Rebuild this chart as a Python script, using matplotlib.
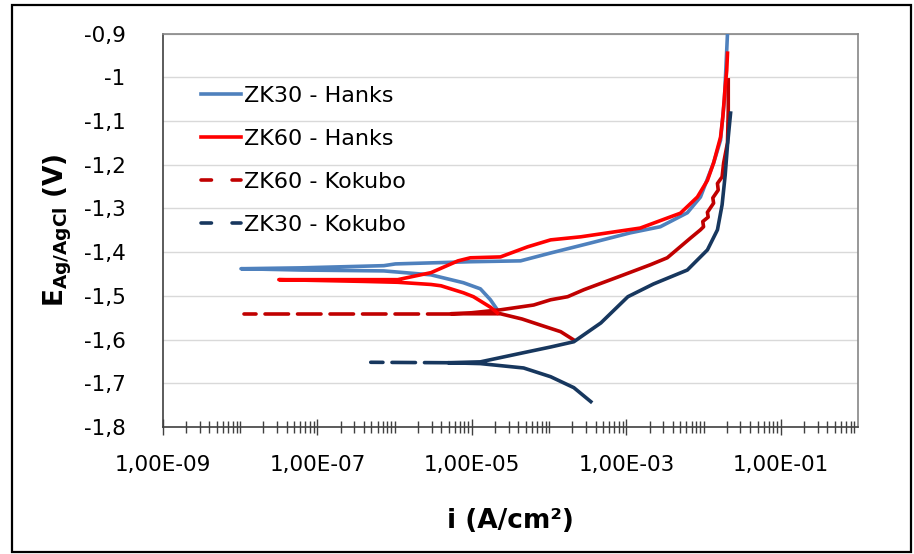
import matplotlib
matplotlib.use("Agg")
import numpy as np
import matplotlib.pyplot as plt
from matplotlib.ticker import FixedLocator, FixedFormatter, NullFormatter
from matplotlib.patches import Rectangle
from matplotlib.lines import Line2D

plt.rcParams['font.family'] = ['DejaVu Sans']
plt.rcParams['mathtext.fontset'] = 'dejavusans'

# ---------------- data (log10 of i in A/cm2, E in V vs Ag/AgCl) ----------------
labels = ["ZK30 - Hanks", "ZK60 - Hanks", "ZK60 - Kokubo", "ZK30 - Kokubo"]
colors = ["#4F81BD", "#FF0000", "#C00000", "#17375E"]

# ZK30 - Hanks : cathodic end -> Ecorr -> anodic end
zk30h_logi = [-4.67, -4.76, -4.89, -5.11, -5.53, -6.14, -7.21, -7.99,
              -7.21, -6.14, -5.99, -5.02, -4.37, -3.98, -3.46, -2.95, -2.56,
              -2.21, -2.04, -1.94, -1.87, -1.78, -1.73, -1.69]
zk30h_E = [-1.532, -1.509, -1.484, -1.470, -1.452, -1.443, -1.441, -1.438,
           -1.436, -1.431, -1.427, -1.422, -1.420, -1.402, -1.379, -1.356, -1.342,
           -1.310, -1.274, -1.228, -1.196, -1.144, -1.052, -0.900]

# ZK60 - Hanks
zk60h_logi = [-4.67, -4.76, -4.98, -5.11, -5.40, -5.53, -5.96, -6.40, -7.50,
              -6.40, -5.96, -5.53, -5.18, -5.02, -4.63, -4.28, -3.98, -3.59,
              -2.82, -2.30, -2.08, -1.95, -1.87, -1.78, -1.75, -1.72, -1.70, -1.69]
zk60h_E = [-1.539, -1.526, -1.502, -1.493, -1.477, -1.474, -1.469, -1.467, -1.463,
           -1.463, -1.463, -1.447, -1.420, -1.413, -1.411, -1.388, -1.372, -1.365,
           -1.345, -1.311, -1.274, -1.236, -1.196, -1.137, -1.090, -1.022, -0.985, -0.945]

# ZK60 - Kokubo : solid part (cathodic end -> junction -> anodic end)
zk60k_logi = [-3.68, -3.85, -4.11, -4.35, -4.63, -5.02, -5.27,
              -5.02, -4.63, -4.20, -3.98, -3.76, -3.55, -3.11, -2.69, -2.47,
              -2.17, -2.04, -2.00, -2.01, -1.94, -1.95, -1.87, -1.88, -1.81,
              -1.82, -1.76, -1.74, -1.69, -1.68, -1.68]
zk60k_E = [-1.601, -1.582, -1.567, -1.553, -1.541, -1.541, -1.541,
           -1.539, -1.532, -1.521, -1.509, -1.502, -1.486, -1.457, -1.429, -1.413,
           -1.368, -1.349, -1.342, -1.330, -1.320, -1.309, -1.288, -1.276, -1.258,
           -1.243, -1.228, -1.196, -1.150, -1.075, -1.006]
# ZK60 - Kokubo : near-Ecorr part (dashed)
zk60k_dash_logi = [-5.27, -7.95]
zk60k_dash_E = [-1.541, -1.541]

# ZK30 - Kokubo : solid part
zk30k_logi = [-3.46, -3.68, -3.98, -4.33, -4.89, -5.31,
              -4.89, -4.33, -3.98, -3.68, -3.33, -2.98, -2.65, -2.21, -1.95,
              -1.82, -1.76, -1.72, -1.69, -1.65]
zk30k_E = [-1.742, -1.710, -1.685, -1.665, -1.655, -1.653,
           -1.651, -1.630, -1.617, -1.605, -1.562, -1.502, -1.473, -1.441, -1.395,
           -1.349, -1.292, -1.224, -1.155, -1.082]
# ZK30 - Kokubo : near-Ecorr part (dashed)
zk30k_dash_logi = [-5.31, -6.31]
zk30k_dash_E = [-1.653, -1.652]

# axis ticks / labels
x_major = [1e-9, 1e-7, 1e-5, 1e-3, 1e-1]
x_major_labels = ["1,00E-09", "1,00E-07", "1,00E-05", "1,00E-03", "1,00E-01"]
y_ticks = [-0.9, -1.0, -1.1, -1.2, -1.3, -1.4, -1.5, -1.6, -1.7, -1.8]
y_tick_labels = ["-0,9", "-1", "-1,1", "-1,2", "-1,3", "-1,4", "-1,5", "-1,6", "-1,7", "-1,8"]

# ---------------- figure ----------------
W, H = 914, 554
fig = plt.figure(figsize=(W / 100, H / 100), dpi=100)
L, R, T, B = 163, 858, 33.5, 427
ax = fig.add_axes([L / W, 1 - B / H, (R - L) / W, (B - T) / H])

lw = 2.6
dash = (6.5, 2.5)

def tenpow(a):
    return 10.0 ** np.asarray(a)

ax.plot(tenpow(zk30h_logi), zk30h_E, color=colors[0], lw=lw,
        solid_joinstyle='round', zorder=3)
ax.plot(tenpow(zk60h_logi), zk60h_E, color=colors[1], lw=lw,
        solid_joinstyle='round', zorder=4)
ax.plot(tenpow(zk60k_dash_logi), zk60k_dash_E, color=colors[2], lw=lw,
        dashes=dash, dash_capstyle='round', zorder=3)
ax.plot(tenpow(zk60k_logi), zk60k_E, color=colors[2], lw=lw,
        solid_joinstyle='round', zorder=3)
ax.plot(tenpow(zk30k_dash_logi), zk30k_dash_E, color=colors[3], lw=lw,
        dashes=dash, dash_capstyle='round', zorder=3)
ax.plot(tenpow(zk30k_logi), zk30k_E, color=colors[3], lw=lw,
        solid_joinstyle='round', zorder=3)

ax.set_xscale('log')
ax.set_xlim(1e-9, 1e0)
ax.set_ylim(-1.8, -0.9)

ax.xaxis.set_major_locator(FixedLocator(x_major))
ax.xaxis.set_major_formatter(FixedFormatter(x_major_labels))
minors = [k * 10.0 ** e for e in range(-9, 0) for k in range(1, 10)]
ax.xaxis.set_minor_locator(FixedLocator(minors))
ax.xaxis.set_minor_formatter(NullFormatter())
ax.tick_params(axis='x', which='major', direction='inout', length=11, width=1,
               color='#404040', labelsize=15.5, pad=15)
ax.tick_params(axis='x', which='minor', direction='inout', length=8.5, width=1,
               color='#404040')

ax.yaxis.set_major_locator(FixedLocator(y_ticks))
ax.yaxis.set_major_formatter(FixedFormatter(y_tick_labels))
ax.tick_params(axis='y', which='major', length=0, labelsize=15.5, pad=27)
ax.yaxis.grid(True, color='#D9D9D9', lw=1)
ax.set_axisbelow(True)

for s in ['top', 'right']:
    ax.spines[s].set_color('#868686')
    ax.spines[s].set_linewidth(1.2)
for s in ['left', 'bottom']:
    ax.spines[s].set_color('#404040')
    ax.spines[s].set_linewidth(1.2)

handles = [
    Line2D([], [], color=colors[0], lw=lw),
    Line2D([], [], color=colors[1], lw=lw),
    Line2D([], [], color=colors[2], lw=lw, dashes=(2.9, 5.7), dash_capstyle='round'),
    Line2D([], [], color=colors[3], lw=lw, dashes=(2.9, 5.7), dash_capstyle='round'),
]
leg = ax.legend(handles, labels, loc='upper left', bbox_to_anchor=(0.055, 0.867),
                frameon=False, fontsize=16, handlelength=1.8, handletextpad=0.12,
                labelspacing=1.04, borderpad=0, borderaxespad=0)

fig.text(510 / W, 1 - 521 / H, "i (A/cm²)", ha='center', va='center',
         fontsize=19, fontweight='bold')
fig.text(58 / W, 1 - 230 / H, r'$\mathbf{E}_{\mathbf{Ag/AgCl}}\ \mathbf{(V)}$',
         rotation=90, ha='center', va='center', fontsize=19)

fig.patches.append(Rectangle((12 / W, 2 / H), 899 / W, 547 / H,
                             transform=fig.transFigure, fill=False,
                             edgecolor='black', lw=1.6))

fig.savefig("out.png", dpi=100)
